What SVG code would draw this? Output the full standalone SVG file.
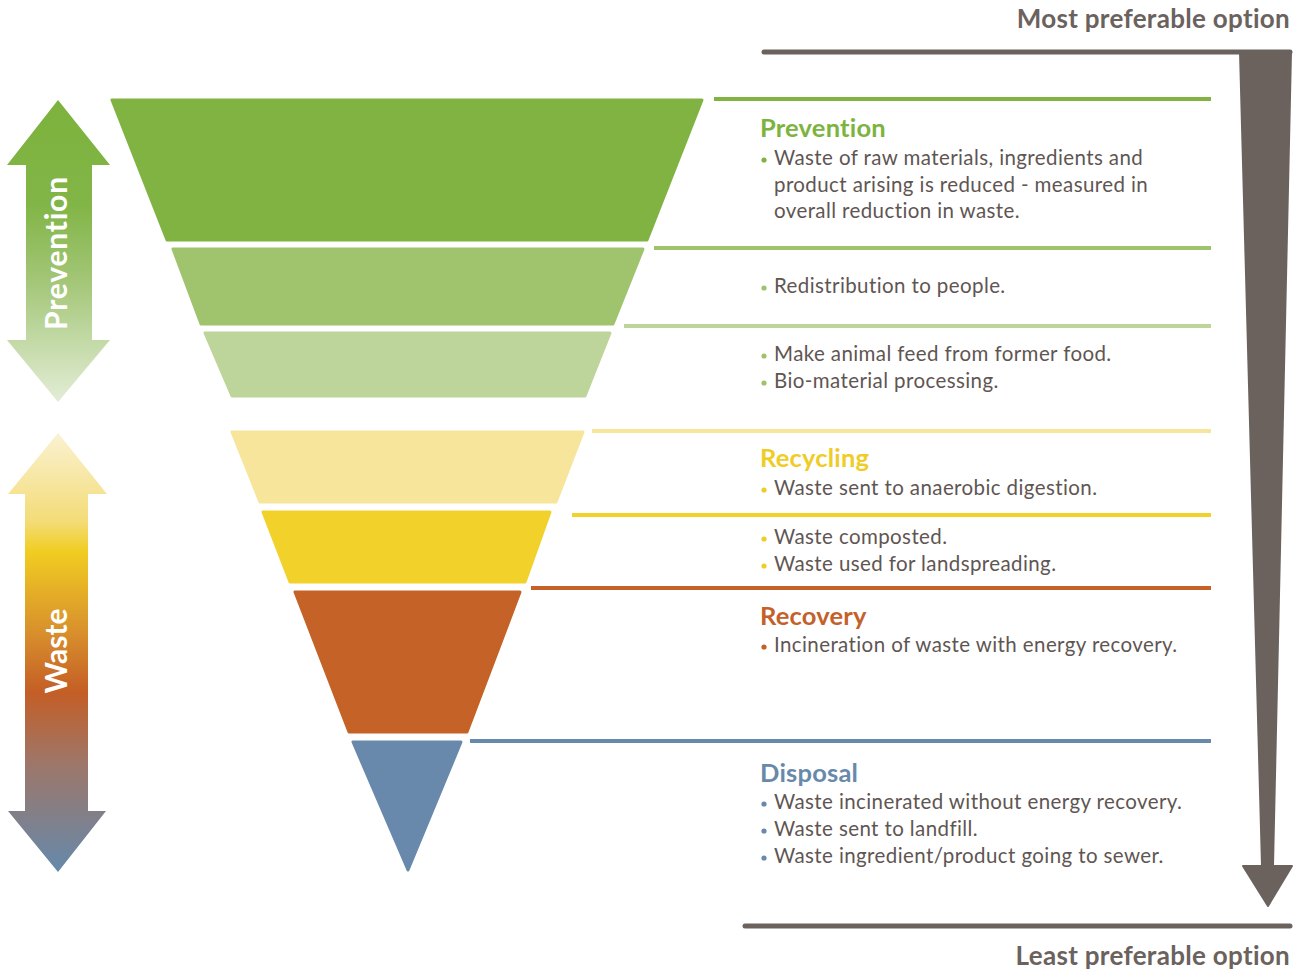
<svg xmlns="http://www.w3.org/2000/svg" width="1305" height="970" viewBox="0 0 1305 970">
<defs>
<linearGradient id="gPrev" x1="0" y1="100" x2="0" y2="402" gradientUnits="userSpaceOnUse">
<stop offset="0" stop-color="#7cb23d"/>
<stop offset="0.35" stop-color="#82b547"/>
<stop offset="0.6" stop-color="#a3c677"/>
<stop offset="1" stop-color="#e3edd6"/>
</linearGradient>
<linearGradient id="gWaste" x1="0" y1="433" x2="0" y2="872" gradientUnits="userSpaceOnUse">
<stop offset="0" stop-color="#faf2d2"/>
<stop offset="0.2" stop-color="#f4dc78"/>
<stop offset="0.27" stop-color="#f0cd22"/>
<stop offset="0.45" stop-color="#d9912c"/>
<stop offset="0.59" stop-color="#c45e26"/>
<stop offset="0.75" stop-color="#9e7668"/>
<stop offset="1" stop-color="#6589ab"/>
</linearGradient>
<style>
.body{font-family:Lato,"Liberation Sans",sans-serif;font-size:20.5px;letter-spacing:0.4px;fill:#5f5653}
.head{font-family:Lato,"Liberation Sans",sans-serif;font-size:25.5px;letter-spacing:0.2px;font-weight:bold}
.side{font-family:Lato,"Liberation Sans",sans-serif;font-size:30px;font-weight:bold;fill:#ffffff}
.pref{font-family:Lato,"Liberation Sans",sans-serif;font-size:26px;letter-spacing:0.3px;font-weight:bold;fill:#6b625e}
.tier{stroke-linejoin:round;stroke-width:3}
.rule{stroke-width:4;fill:none}
</style>
</defs>

<g id="pyramid">
<polygon id="tier-prevention" class="tier" points="112,100 702,100 647,240 167,240" fill="#80b342" stroke="#80b342"/>
<polygon id="tier-redistribution" class="tier" points="173,249 643,249 613,324 201,324" fill="#a0c36d" stroke="#a0c36d"/>
<polygon id="tier-animal-feed" class="tier" points="205,333 610,333 585,396 232,396" fill="#bdd59b" stroke="#bdd59b"/>
<polygon id="tier-recycling" class="tier" points="232,432 583,432 556,502 260,502" fill="#f6e59b" stroke="#f6e59b"/>
<polygon id="tier-compost" class="tier" points="263,512 550,512 525,582 290,582" fill="#f2d12b" stroke="#f2d12b"/>
<polygon id="tier-recovery" class="tier" points="295,592 520,592 467,732 349,732" fill="#c46227" stroke="#c46227"/>
<polygon id="tier-disposal" class="tier" points="353,742 461,742 408,870" fill="#6889ab" stroke="#6889ab"/>
</g>

<g id="connectors">
<line class="rule" x1="714" y1="99" x2="1211" y2="99" stroke="#80b342"/>
<line class="rule" x1="654" y1="248" x2="1211" y2="248" stroke="#9fc36d"/>
<line class="rule" x1="624" y1="326" x2="1211" y2="326" stroke="#bdd59b"/>
<line class="rule" x1="592" y1="431" x2="1211" y2="431" stroke="#f6e59b"/>
<line class="rule" x1="572" y1="515" x2="1211" y2="515" stroke="#f2d12b"/>
<line class="rule" x1="531" y1="588" x2="1211" y2="588" stroke="#c46227"/>
<line class="rule" x1="470" y1="741" x2="1211" y2="741" stroke="#6889ab"/>
</g>

<g id="arrow-prevention">
<polygon points="58,100 110,165 92,165 92,340 110,340 58,402 7,340 26,340 26,165 7,165" fill="url(#gPrev)"/>
<text class="side" transform="translate(67,253) rotate(-90)" text-anchor="middle" letter-spacing="0.8">Prevention</text>
</g>

<g id="arrow-waste">
<polygon points="58,433 107,494 88,494 88,811 106,811 58,872 8,811 25,811 25,494 8,494" fill="url(#gWaste)"/>
<text class="side" transform="translate(67,651) rotate(-90)" text-anchor="middle">Waste</text>
</g>

<g id="preference-arrow">
<text class="pref" x="1290" y="28" text-anchor="end">Most preferable option</text>
<line x1="764" y1="52" x2="1290" y2="52" stroke="#6b625e" stroke-width="5" stroke-linecap="round"/>
<polygon points="1240,52 1291,52 1273,866 1292,866 1268,906 1243,866 1262,866" fill="#6b625e" stroke="#6b625e" stroke-width="2" stroke-linejoin="round"/>
<line x1="745" y1="926" x2="1290" y2="926" stroke="#6b625e" stroke-width="5" stroke-linecap="round"/>
<text class="pref" x="1290" y="965" text-anchor="end">Least preferable option</text>
</g>

<g id="label-prevention">
<text class="head" x="760" y="137" fill="#7db33f">Prevention</text>
<circle cx="764" cy="160" r="2.6" fill="#7db33f"/>
<text class="body" x="774" y="165">Waste of raw materials, ingredients and</text>
<text class="body" x="774" y="192">product arising is reduced - measured in</text>
<text class="body" x="774" y="218">overall reduction in waste.</text>
</g>

<g id="label-redistribution">
<circle cx="764" cy="288" r="2.6" fill="#9fc36d"/>
<text class="body" x="774" y="293">Redistribution to people.</text>
</g>

<g id="label-animal-feed">
<circle cx="764" cy="356" r="2.6" fill="#9fc36d"/>
<text class="body" x="774" y="361">Make animal feed from former food.</text>
<circle cx="764" cy="383" r="2.6" fill="#9fc36d"/>
<text class="body" x="774" y="388">Bio-material processing.</text>
</g>

<g id="label-recycling">
<text class="head" x="760" y="467" fill="#f0cc26">Recycling</text>
<circle cx="764" cy="490" r="2.6" fill="#f0cc26"/>
<text class="body" x="774" y="495">Waste sent to anaerobic digestion.</text>
</g>

<g id="label-compost">
<circle cx="764" cy="539" r="2.6" fill="#f0cc26"/>
<text class="body" x="774" y="544">Waste composted.</text>
<circle cx="764" cy="566" r="2.6" fill="#f0cc26"/>
<text class="body" x="774" y="571">Waste used for landspreading.</text>
</g>

<g id="label-recovery">
<text class="head" x="760" y="625" fill="#c4602a">Recovery</text>
<circle cx="764" cy="647" r="2.6" fill="#c4602a"/>
<text class="body" x="774" y="652">Incineration of waste with energy recovery.</text>
</g>

<g id="label-disposal">
<text class="head" x="760" y="782" fill="#6889ab">Disposal</text>
<circle cx="764" cy="804" r="2.6" fill="#6889ab"/>
<text class="body" x="774" y="809">Waste incinerated without energy recovery.</text>
<circle cx="764" cy="831" r="2.6" fill="#6889ab"/>
<text class="body" x="774" y="836">Waste sent to landfill.</text>
<circle cx="764" cy="858" r="2.6" fill="#6889ab"/>
<text class="body" x="774" y="863">Waste ingredient/product going to sewer.</text>
</g>
</svg>
